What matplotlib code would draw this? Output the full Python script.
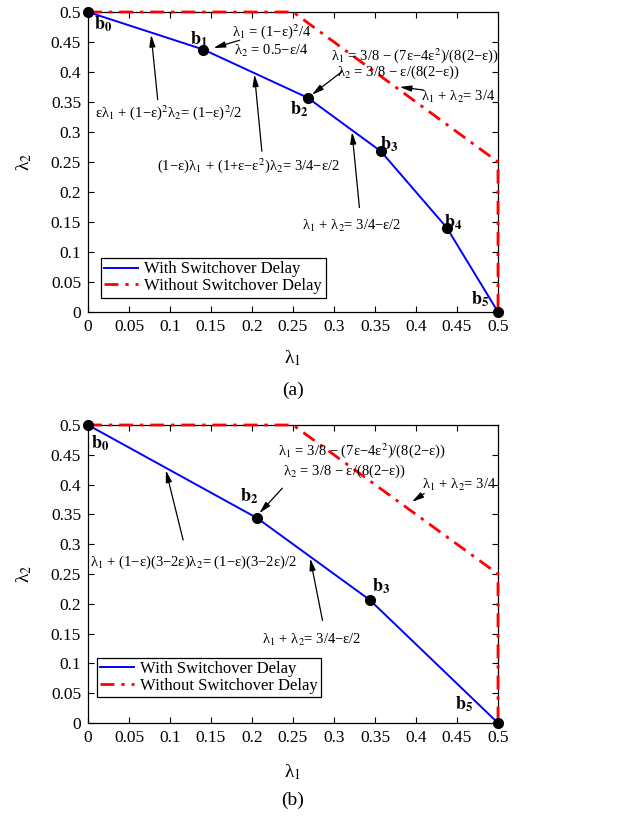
import matplotlib
matplotlib.use("Agg")
import matplotlib.pyplot as plt

plt.rcParams['font.family'] = ['Liberation Serif', 'DejaVu Serif']
plt.rcParams['mathtext.fontset'] = 'stix'

# ---- data ----
tick_vals = [0, 0.05, 0.1, 0.15, 0.2, 0.25, 0.3, 0.35, 0.4, 0.45, 0.5]
tick_labels = ['0', '0.05', '0.1', '0.15', '0.2', '0.25', '0.3', '0.35', '0.4', '0.45', '0.5']

# without switchover delay (same in both panels)
red_l1 = [0, 0.25, 0.5, 0.5]
red_l2 = [0.5, 0.5, 0.25, 0]

# panel (a): with switchover delay, corner points b0..b5
a_l1 = [0, 0.1406, 0.2679, 0.3571, 0.4375, 0.5]
a_l2 = [0.5, 0.4375, 0.3571, 0.2679, 0.1406, 0]
a_names = ['0', '1', '2', '3', '4', '5']
a_name_x = [0.019, 0.135, 0.257, 0.367, 0.445, 0.478]
a_name_y = [0.479, 0.455, 0.337, 0.280, 0.150, 0.021]

# panel (b): corner points b0, b2, b3, b5
b_l1 = [0, 0.2063, 0.3438, 0.5]
b_l2 = [0.5, 0.3438, 0.2063, 0]
b_names = ['0', '2', '3', '5']
b_name_x = [0.015, 0.197, 0.357, 0.459]
b_name_y = [0.469, 0.380, 0.229, 0.032]

# annotations: text, text position, arrow tail, arrow head
a_notes = [
    (r'λ$_1$ = (1−ε)$^2$/4' + '\n' + r'λ$_2$ = 0.5−ε/4', (0.224, 0.452), (0.185, 0.453), (0.153, 0.440)),
    (r'λ$_1$ = 3/8 − (7ε−4ε$^2$)/(8(2−ε))', (0.399, 0.428), None, None),
    (r'λ$_2$ = 3/8 − ε/(8(2−ε))', (0.379, 0.400), (0.310, 0.401), (0.273, 0.362)),
    (r'λ$_1$ + λ$_2$= 3/4', (0.451, 0.358), (0.409, 0.370), (0.380, 0.375)),
    (r'ελ$_1$ + (1−ε)$^2$λ$_2$= (1−ε)$^2$/2', (0.099, 0.332), (0.085, 0.354), (0.077, 0.462)),
    (r'(1−ε)λ$_1$ + (1+ε−ε$^2$)λ$_2$= 3/4−ε/2', (0.195, 0.244), (0.212, 0.268), (0.203, 0.396)),
    (r'λ$_1$ + λ$_2$= 3/4−ε/2', (0.321, 0.143), (0.331, 0.174), (0.322, 0.300)),
]
b_notes = [
    (r'λ$_1$ = 3/8 − (7ε−4ε$^2$)/(8(2−ε))', (0.334, 0.458), None, None),
    (r'λ$_2$ = 3/8 − ε/(8(2−ε))', (0.313, 0.423), (0.237, 0.394), (0.209, 0.352)),
    (r'λ$_1$ + λ$_2$= 3/4', (0.453, 0.399), (0.410, 0.385), (0.395, 0.371)),
    (r'λ$_1$ + (1−ε)(3−2ε)λ$_2$= (1−ε)(3−2ε)/2', (0.128, 0.270), (0.116, 0.307), (0.095, 0.424)),
    (r'λ$_1$ + λ$_2$= 3/4−ε/2', (0.273, 0.139), (0.286, 0.172), (0.271, 0.276)),
]


def draw_panel(ax, l1, l2, names, name_x, name_y, notes, leg_anchor, caption, cap_y, xlab_y):
    ax.plot(l1, l2, color='#0000ff', lw=1.4, label='With Switchover Delay', zorder=3)
    ax.plot(red_l1, red_l2, color='#ff0000', lw=2.0, ls=(0, (5, 2.5, 1.2, 2.5)),
            label='Without Switchover Delay', zorder=3, clip_on=False)
    ax.plot(l1, l2, 'o', color='k', ms=7, clip_on=False, zorder=4)

    for n, x, y in zip(names, name_x, name_y):
        ax.text(x, y, r'$\mathbf{b}_{\mathbf{' + n + '}}$', fontsize=13,
                ha='center', va='center')

    for txt, pos, tail, head in notes:
        ax.text(pos[0], pos[1], txt, fontsize=10.5, ha='center', va='center',
                linespacing=1.15)
        if tail is not None:
            ax.annotate('', xy=head, xytext=tail,
                        arrowprops=dict(arrowstyle='-|>,head_length=0.7,head_width=0.18',
                                        color='k', lw=0.9, shrinkA=0, shrinkB=0))

    ax.set_xlim(0, 0.5)
    ax.set_ylim(0, 0.5)
    ax.set_xticks(tick_vals)
    ax.set_xticklabels(tick_labels)
    ax.set_yticks(tick_vals)
    ax.set_yticklabels(tick_labels)
    ax.tick_params(direction='in', top=True, right=True, length=4, labelsize=12.5, pad=5)
    for s in ax.spines.values():
        s.set_linewidth(0.9)

    ax.set_ylabel('λ$_2$', fontsize=14, labelpad=12)
    pos = ax.get_position()
    fig.text(pos.x0 + pos.width / 2, xlab_y, 'λ$_1$', fontsize=14, ha='center', va='center')
    fig.text(pos.x0 + pos.width / 2, cap_y, caption, fontsize=14, ha='center', va='center')

    leg = ax.legend(loc='lower left', bbox_to_anchor=leg_anchor, bbox_transform=ax.transData,
                    borderaxespad=0, fancybox=False, framealpha=1, edgecolor='k',
                    fontsize=12, handlelength=2.0, handletextpad=0.4,
                    borderpad=0.2, labelspacing=0.05)
    leg.get_frame().set_linewidth(0.9)


fig = plt.figure(figsize=(6.21, 8.18), dpi=100)
W, H = 621, 818
ax_a = fig.add_axes([88 / W, 1 - 312 / H, 410 / W, 300 / H])
ax_b = fig.add_axes([88 / W, 1 - 723 / H, 410 / W, 298 / H])

draw_panel(ax_a, a_l1, a_l2, a_names, a_name_x, a_name_y, a_notes, (0.016, 0.024),
           '(a)', 1 - 390 / H, 1 - 358 / H)
draw_panel(ax_b, b_l1, b_l2, b_names, b_name_x, b_name_y, b_notes, (0.011, 0.043),
           '(b)', 1 - 800 / H, 1 - 772 / H)

fig.savefig('out.png', dpi=100)
